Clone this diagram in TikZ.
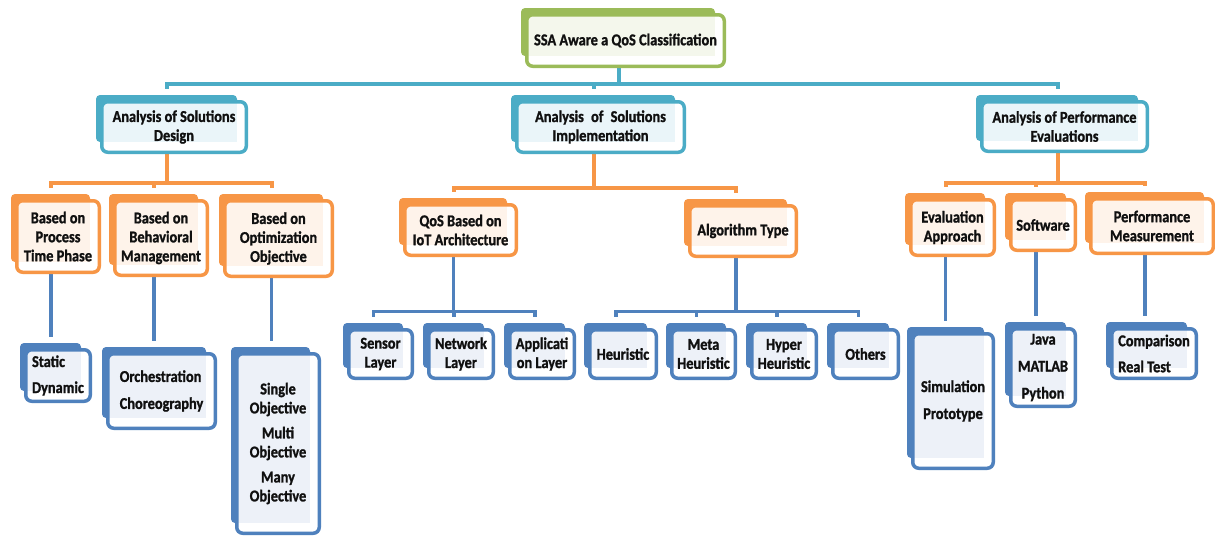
\documentclass[tikz,border=0pt]{standalone}
\usepackage{fontspec}
\setmainfont{Carlito}[FakeStretch=0.87, BoldFeatures={FakeBold=1.2}]
\usetikzlibrary{backgrounds}
\definecolor{grn}{HTML}{9BBB59}\definecolor{grntint}{HTML}{F4F7EC}
\definecolor{tl}{HTML}{4BACC6}\definecolor{tltint}{HTML}{EAF5F9}
\definecolor{org}{HTML}{F79646}\definecolor{orgtint}{HTML}{FEF3EA}
\definecolor{blu}{HTML}{4F81BD}\definecolor{blutint}{HTML}{EDF1F8}
\definecolor{txt}{HTML}{101010}
\tikzset{
  qnode/.style={rectangle, fill=white, line width=3.5pt, rounded corners=6pt,
    inner sep=0pt, align=center, text=txt,
    font=\fontsize{16.5}{19}\selectfont\bfseries},
  tline/.style={draw=tl, line width=4pt},
  oline/.style={draw=org, line width=4pt},
  bline/.style={draw=blu, line width=3.8pt}
}
% #1 extra opts, #2 name, #3 colour, #4-#7 front box x1,y1,x2,y2, #8 text
\newcommand\qbox[8]{%
  \fill[#3, rounded corners=4pt] (#4-4,#5-5) rectangle (#6-11,#7-12);
  \node[qnode, draw=#3, minimum width={#6-#4-3.5}, minimum height={#7-#5-3.5},
    path picture={\fill[#3tint, sharp corners] ([xshift=1.5pt,yshift=-1.5pt]path picture bounding box.north west)
      rectangle ([xshift=-9.25pt,yshift=10.25pt]path picture bounding box.south east);}, #1]
    (#2) at ({(#4+#6)/2},{(#5+#7)/2}) {#8};
  \coordinate (T#2) at ([xshift=-7pt,yshift=11.5pt]#2.north);
  \coordinate (S#2) at ([xshift=-7pt]#2.south);
}
\begin{document}
\begin{tikzpicture}[x=1pt,y=-1pt]
\useasboundingbox (0,0) rectangle (1215,536);
\qbox{}{root}{grn}{525}{13}{726}{68}{SSA Aware a QoS Classification}
\qbox{}{des}{tl}{100}{100}{248}{154}{Analysis of Solutions\\Design}
\qbox{}{imp}{tl}{515}{100}{686}{154}{Analysis\hspace{4pt} of\hspace{4pt} Solutions\\Implementation}
\qbox{}{per}{tl}{980}{100}{1149}{153}{Analysis of Performance\\Evaluations}
\qbox{}{bone}{org}{15}{199}{101}{274}{Based on\\Process\\Time Phase}
\qbox{}{btwo}{org}{113}{199}{209}{277}{Based on\\Behavioral\\Management}
\qbox{}{bthr}{org}{223}{199}{334}{278}{Based on\\Optimization\\Objective}
\qbox{}{qos}{org}{403}{203}{518}{257}{QoS Based on\\IoT Architecture}
\qbox{}{alg}{org}{688}{204}{798}{258}{Algorithm Type}
\qbox{}{eva}{org}{909}{198}{996}{257}{Evaluation\\Approach}
\qbox{}{sw}{org}{1009}{198}{1077}{252}{Software}
\qbox{}{pm}{org}{1089}{197}{1215}{255}{Performance\\Measurement}
\qbox{align=left}{cone}{blu}{24}{348}{92}{403}{Static\\[7pt]Dynamic}
\qbox{align=left}{ctwo}{blu}{106}{352}{217}{430}{Orchestration\\[8pt]Choreography}
\qbox{}{cthr}{blu}{235}{352}{321}{535}{Single\\Objective\\[6pt]Multi\\Objective\\[6pt]Many\\Objective}
\qbox{}{sen}{blu}{347}{328}{414}{380}{Sensor\\Layer}
\qbox{}{net}{blu}{427}{328}{495}{380}{Network\\Layer}
\qbox{}{app}{blu}{508}{328}{576}{380}{Applicati\\on Layer}
\qbox{}{heu}{blu}{588}{328}{658}{380}{Heuristic}
\qbox{}{met}{blu}{670}{328}{737}{380}{Meta\\Heuristic}
\qbox{}{hyp}{blu}{750}{328}{818}{380}{Hyper\\Heuristic}
\qbox{}{oth}{blu}{831}{328}{900}{380}{Others}
\qbox{}{sim}{blu}{911}{332}{995}{470}{Simulation\\[8pt]Prototype}
\qbox{}{jav}{blu}{1009}{327}{1077}{408}{Java\\[8pt]MATLAB\\[8pt]Python}
\qbox{align=left}{cmp}{blu}{1110}{327}{1198}{380}{Comparison\\[7pt]Real Test}
\begin{scope}[on background layer]
  \fill[white] (0,0) rectangle (1215,536);
  % teal level
  \coordinate (tbus) at ([yshift=5pt]Tdes);
  \draw[tline] (Sroot) -- (Sroot |- tbus);
  \draw[tline] (Tdes) -- (tbus) -- (Tper |- tbus) -- (Tper);
  \draw[tline] (Timp) -- (Timp |- tbus);
  % orange level
  \coordinate (obusa) at ([yshift=5pt]Tbone);
  \draw[oline] (Sdes) -- (Sdes |- obusa);
  \draw[oline] (Tbone) -- (obusa) -- (Tbthr |- obusa) -- (Tbthr);
  \draw[oline] (Tbtwo) -- (Tbtwo |- obusa);
  \coordinate (obusb) at ([yshift=4pt]Tqos);
  \draw[oline] (Simp) -- (Simp |- obusb);
  \draw[oline] (Tqos) -- (obusb) -- (Talg |- obusb) -- (Talg);
  \coordinate (obusc) at ([yshift=4pt]Teva);
  \draw[oline] (Sper) -- (Sper |- obusc);
  \draw[oline] (Teva) -- (obusc) -- (Tpm |- obusc) -- (Tpm);
  \draw[oline] (Tsw) -- (Tsw |- obusc);
  % blue level
  \draw[bline] (Sbone) -- (Sbone |- Tcone);
  \draw[bline] (Sbtwo) -- (Sbtwo |- Tctwo);
  \draw[bline] (Sbthr) -- (Sbthr |- Tcthr);
  \coordinate (bbusa) at ([yshift=5pt]Tsen);
  \draw[bline] (Sqos) -- (Sqos |- bbusa);
  \draw[bline] (Tsen) -- (bbusa) -- (Tapp |- bbusa) -- (Tapp);
  \draw[bline] (Tnet) -- (Tnet |- bbusa);
  \coordinate (bbusb) at ([yshift=5pt]Theu);
  \draw[bline] (Salg) -- (Salg |- bbusb);
  \draw[bline] (Theu) -- (bbusb) -- (Toth |- bbusb) -- (Toth);
  \draw[bline] (Tmet) -- (Tmet |- bbusb);
  \draw[bline] (Thyp) -- (Thyp |- bbusb);
  \draw[bline] (Seva) -- (Seva |- Tsim);
  \draw[bline] (Ssw) -- (Ssw |- Tjav);
  \draw[bline] (Spm) -- (Spm |- Tcmp);
\end{scope}
\end{tikzpicture}
\end{document}
